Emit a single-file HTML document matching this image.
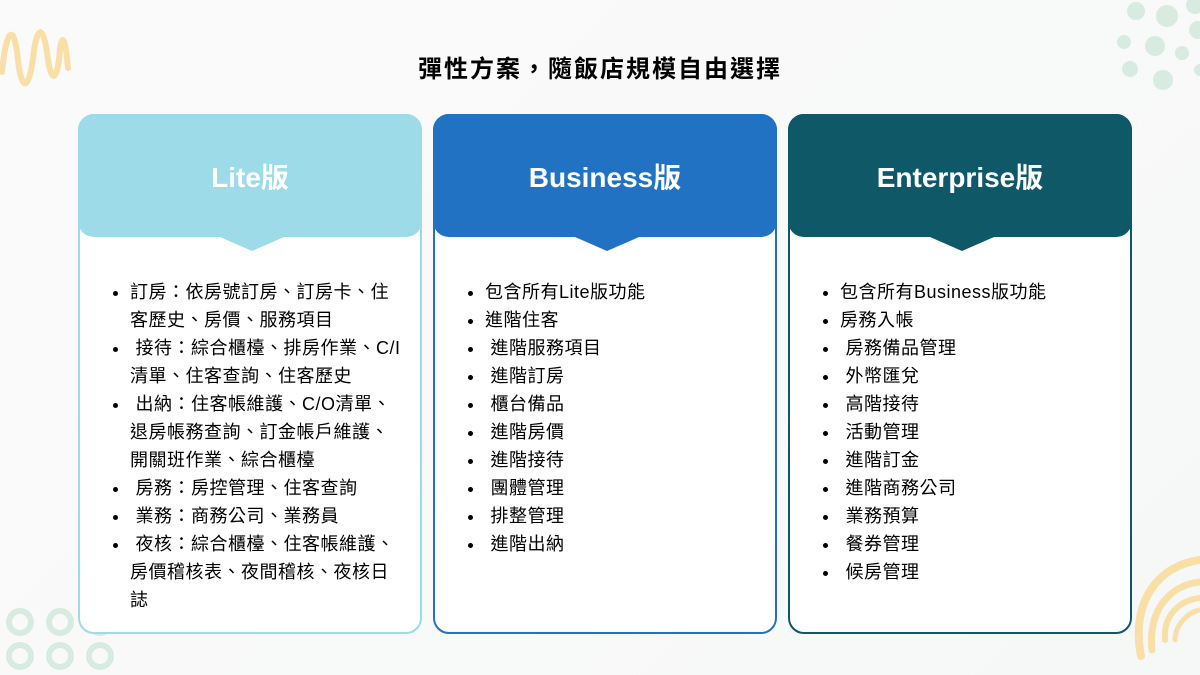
<!DOCTYPE html>
<html><head><meta charset="utf-8"><style>
*{margin:0;padding:0;box-sizing:border-box}
body{width:1200px;height:675px;overflow:hidden;background:linear-gradient(135deg,#fbfafa,#f6f8f8);font-family:"Liberation Sans","Noto Sans CJK TC",sans-serif;position:relative}
.title{position:absolute;top:49px;left:0;width:1200px;text-align:center;font-size:24px;font-weight:bold;letter-spacing:2px;color:#000}
.card{position:absolute;top:114px;width:344px;height:520px;border:2px solid;border-radius:16px;background:#fff}
.hd{position:absolute;left:-2px;top:-2px;width:344px;height:123px;border-radius:16px;color:#fff;font-size:28px;font-weight:bold;text-align:center;line-height:128px}
.tri{position:absolute;top:121px;left:140px;width:0;height:0;border-left:32px solid transparent;border-right:32px solid transparent;border-top:14px solid}
ul{position:absolute;top:162px;left:50px;font-size:18px;line-height:28px;letter-spacing:0.5px;color:#000;white-space:nowrap}
li{margin-left:0}
.deco{position:absolute}
</style></head><body>
<svg class="deco" style="left:0;top:0" width="1200" height="675">
<path d="M2 72 C6 30 14 20 18 60 C22 95 30 90 34 50 C38 25 44 25 48 60 C52 85 58 80 60 48 C63 30 66 45 68 68" fill="none" stroke="#f7dfa6" stroke-width="6" stroke-linecap="round"/>
<g fill="#d8ebe1">
<circle cx="1136" cy="11" r="9"/><circle cx="1167" cy="16" r="11"/><circle cx="1195" cy="5" r="9"/>
<circle cx="1124" cy="42" r="7"/><circle cx="1155" cy="46" r="10"/><circle cx="1182" cy="53" r="7"/><circle cx="1198" cy="30" r="9"/>
<circle cx="1130" cy="69" r="8"/><circle cx="1163" cy="80" r="10"/><circle cx="1200" cy="70" r="6"/>
</g>
<g fill="none" stroke="#d8ebe1" stroke-width="6">
<circle cx="20" cy="622" r="11"/><circle cx="60" cy="622" r="11"/><circle cx="100" cy="622" r="11"/>
<circle cx="20" cy="656" r="11"/><circle cx="60" cy="656" r="11"/><circle cx="100" cy="656" r="11"/>
</g>
<g fill="none" stroke="#f7dfa6" stroke-linecap="round">
<path d="M1141 656 C1130 600 1160 565 1200 560" stroke-width="8"/>
<path d="M1152 650 C1148 610 1170 585 1200 582" stroke-width="7"/>
<path d="M1165 640 C1163 615 1180 600 1200 598" stroke-width="6"/>
<path d="M1175 640 C1175 625 1188 612 1200 610" stroke-width="5"/>
</g>
</svg>
<div class="title">彈性方案，隨飯店規模自由選擇</div>

<div class="card" style="left:78px;border-color:#9cdbe7">
<div class="hd" style="background:#9cdbe7">Lite版</div><div class="tri" style="border-top-color:#9cdbe7"></div>
<ul>
<li>訂房：依房號訂房、訂房卡、住<br>客歷史、房價、服務項目</li>
<li>&nbsp;接待：綜合櫃檯、排房作業、C/I<br>清單、住客查詢、住客歷史</li>
<li>&nbsp;出納：住客帳維護、C/O清單、<br>退房帳務查詢、訂金帳戶維護、<br>開關班作業、綜合櫃檯</li>
<li>&nbsp;房務：房控管理、住客查詢</li>
<li>&nbsp;業務：商務公司、業務員</li>
<li>&nbsp;夜核：綜合櫃檯、住客帳維護、<br>房價稽核表、夜間稽核、夜核日<br>誌</li>
</ul></div>

<div class="card" style="left:433px;border-color:#2272c3">
<div class="hd" style="background:#2272c3">Business版</div><div class="tri" style="border-top-color:#2272c3"></div>
<ul>
<li>包含所有Lite版功能</li><li>進階住客</li><li>&nbsp;進階服務項目</li><li>&nbsp;進階訂房</li><li>&nbsp;櫃台備品</li><li>&nbsp;進階房價</li><li>&nbsp;進階接待</li><li>&nbsp;團體管理</li><li>&nbsp;排整管理</li><li>&nbsp;進階出納</li>
</ul></div>

<div class="card" style="left:788px;border-color:#0e5868">
<div class="hd" style="background:#0e5868">Enterprise版</div><div class="tri" style="border-top-color:#0e5868"></div>
<ul>
<li>包含所有Business版功能</li><li>房務入帳</li><li>&nbsp;房務備品管理</li><li>&nbsp;外幣匯兌</li><li>&nbsp;高階接待</li><li>&nbsp;活動管理</li><li>&nbsp;進階訂金</li><li>&nbsp;進階商務公司</li><li>&nbsp;業務預算</li><li>&nbsp;餐券管理</li><li>&nbsp;候房管理</li>
</ul></div>
</body></html>
